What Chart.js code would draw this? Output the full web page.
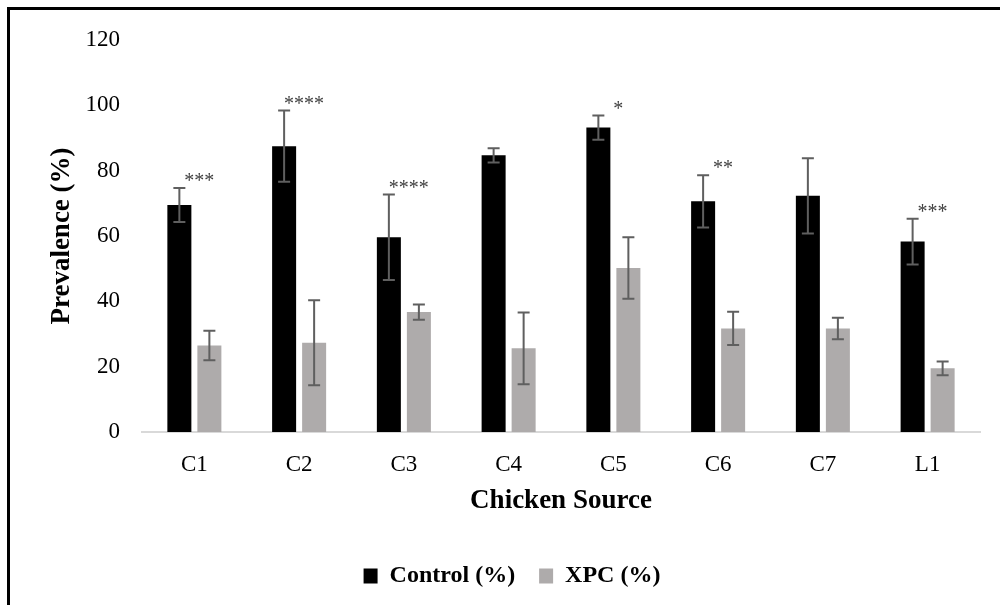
<!DOCTYPE html>
<html lang="en">
  <head>
    <meta charset="UTF-8" />
    <title>Prevalence by Chicken Source</title>
    <style>
      body { margin: 0; background: #fff; }
      .wrap { position: relative; width: 1000px; height: 605px; }
      .frame {
        position: absolute; left: 7px; top: 7px; right: 0; bottom: 0;
        border-top: 3px solid #000; border-left: 3px solid #000;
        pointer-events: none;
      }
      canvas { position: absolute; left: 0; top: 0; }
    </style>
  </head>
  <body>
    <div class="wrap">
      <canvas id="myChart" width="1000" height="605"></canvas>
      <div class="frame"></div>
    </div>

    <script src="https://cdn.jsdelivr.net/npm/chart.js"></script>
    <script>
      // datos
      const categorias = ["C1", "C2", "C3", "C4", "C5", "C6", "C7", "L1"];
      const control = [69.5, 87.5, 59.6, 84.7, 93.2, 70.6, 72.3, 58.3];
      const controlErr = [5.2, 10.9, 13.1, 2.2, 3.7, 8.0, 11.5, 7.0];
      const xpc = [26.5, 27.3, 36.7, 25.6, 50.2, 31.7, 31.7, 19.5];
      const xpcErr = [4.5, 13.0, 2.3, 11.0, 9.4, 5.1, 3.3, 2.1];
      const significancia = ["***", "****", "****", "", "*", "**", "", "***"];
      const yTicks = [0, 20, 40, 60, 80, 100, 120];

      Chart.defaults.font.family = "'Liberation Serif', 'Times New Roman', serif";
      Chart.defaults.color = "#000";

      // barras de error y asteriscos
      const errorBars = {
        id: "errorBars",
        afterDatasetsDraw(chart) {
          const ctx = chart.ctx;
          const y = chart.scales.y;
          chart.data.datasets.forEach((ds, d) => {
            const meta = chart.getDatasetMeta(d);
            meta.data.forEach((bar, i) => {
              const v = ds.data[i];
              const e = ds.errores[i];
              const top = y.getPixelForValue(v + e);
              const bot = y.getPixelForValue(v - e);
              ctx.save();
              ctx.strokeStyle = "#5f5f5f";
              ctx.lineWidth = 2;
              ctx.beginPath();
              ctx.moveTo(bar.x, top);
              ctx.lineTo(bar.x, bot);
              ctx.moveTo(bar.x - 6, top);
              ctx.lineTo(bar.x + 6, top);
              ctx.moveTo(bar.x - 6, bot);
              ctx.lineTo(bar.x + 6, bot);
              ctx.stroke();
              ctx.restore();
            });
          });

          const meta0 = chart.getDatasetMeta(0);
          ctx.save();
          ctx.fillStyle = "#404040";
          ctx.font = "20px 'Liberation Serif', serif";
          ctx.textAlign = "center";
          ctx.textBaseline = "middle";
          significancia.forEach((s, i) => {
            if (!s) return;
            const bar = meta0.data[i];
            const top = y.getPixelForValue(control[i] + controlErr[i]);
            ctx.fillText(s, bar.x + 20, top - 6);
          });
          ctx.restore();
        },
      };

      const ctx = document.getElementById("myChart");

      new Chart(ctx, {
        type: "bar",
        data: {
          labels: categorias,
          datasets: [
            {
              label: "Control (%)",
              data: control,
              errores: controlErr,
              backgroundColor: "#000000",
              categoryPercentage: 0.573,
              barPercentage: 0.8,
            },
            {
              label: "XPC (%)",
              data: xpc,
              errores: xpcErr,
              backgroundColor: "#aeabab",
              categoryPercentage: 0.573,
              barPercentage: 0.8,
            },
          ],
        },
        options: {
          responsive: false,
          animation: false,
          layout: { padding: { left: 44, right: 20, top: 40, bottom: 7 } },
          plugins: {
            tooltip: { enabled: false },
            legend: {
              position: "bottom",
              labels: {
                boxWidth: 14,
                boxHeight: 15,
                padding: 24,
                color: "#000",
                font: { size: 24, weight: "bold" },
              },
            },
          },
          scales: {
            x: {
              grid: { display: false, drawTicks: false },
              border: { display: true, color: "#d9d9d9", width: 2 },
              ticks: { padding: 19, color: "#000", font: { size: 23 } },
              title: {
                display: true,
                text: "Chicken Source",
                color: "#000",
                font: { size: 27, weight: "bold" },
                padding: { top: 0, bottom: 23 },
              },
              afterFit: (s) => { s.height = 108; },
            },
            y: {
              min: 0,
              max: 120,
              grid: { display: false, drawTicks: false },
              border: { display: false },
              afterBuildTicks: (s) => { s.ticks = yTicks.map((v) => ({ value: v })); },
              ticks: { padding: 22, color: "#000", font: { size: 23 } },
              title: {
                display: true,
                text: "Prevalence (%)",
                color: "#000",
                font: { size: 27, weight: "bold" },
                padding: { top: 2, bottom: 0 },
              },
              afterFit: (s) => { s.width = 98; },
            },
          },
        },
        plugins: [errorBars],
      });
    </script>
  </body>
</html>
